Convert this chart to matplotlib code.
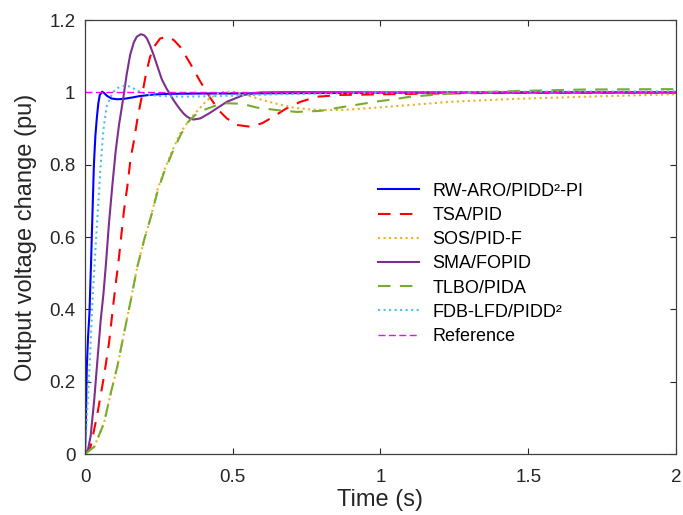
import matplotlib
matplotlib.use('Agg')
from matplotlib import pyplot as plt

# step responses (time in s, output in pu)
t_rwaro = [0, 0.003, 0.006, 0.01, 0.015, 0.02, 0.025, 0.03, 0.035, 0.04,
           0.045, 0.05, 0.058, 0.065, 0.075, 0.09, 0.11, 0.13, 0.16, 0.186,
           0.23, 0.277, 0.4, 0.5, 0.7, 1.0, 1.5, 2.0]
y_rwaro = [0, 0.1, 0.24, 0.32, 0.39, 0.52, 0.66, 0.8, 0.88, 0.93,
           0.97, 0.993, 1.002, 0.998, 0.99, 0.983, 0.981, 0.982, 0.986, 0.99,
           0.994, 0.996, 0.997, 0.997, 0.998, 0.999, 1.0, 1.0]

t_tsa = [0, 0.019, 0.042, 0.064, 0.081, 0.098, 0.115, 0.132, 0.143, 0.155,
         0.164, 0.178, 0.192, 0.206, 0.22, 0.237, 0.254, 0.277, 0.3, 0.322,
         0.356, 0.39, 0.424, 0.452, 0.48, 0.514, 0.559, 0.6, 0.638, 0.68,
         0.729, 0.785, 0.864, 0.95, 1.1, 1.3, 1.6, 2.0]
y_tsa = [0, 0.02, 0.112, 0.214, 0.306, 0.43, 0.545, 0.675, 0.739, 0.822,
         0.859, 0.93, 0.988, 1.05, 1.098, 1.13, 1.149, 1.154, 1.145, 1.126,
         1.08, 1.03, 0.985, 0.951, 0.928, 0.91, 0.905, 0.915, 0.933, 0.955,
         0.974, 0.988, 0.993, 0.994, 0.996, 0.998, 0.999, 1.0]

t_sos = [0, 0.031, 0.064, 0.087, 0.109, 0.132, 0.155, 0.177, 0.2, 0.223,
         0.245, 0.268, 0.296, 0.322, 0.345, 0.367, 0.39, 0.412, 0.435, 0.458,
         0.5, 0.548, 0.6, 0.661, 0.706, 0.76, 0.82, 0.88, 0.955, 1.05,
         1.237, 1.45, 1.69, 2.0]
y_sos = [0, 0.02, 0.085, 0.168, 0.241, 0.334, 0.426, 0.518, 0.592, 0.656,
         0.73, 0.785, 0.84, 0.887, 0.915, 0.937, 0.958, 0.978, 0.99, 1.0,
         1.002, 0.993, 0.979, 0.966, 0.958, 0.953, 0.951, 0.952, 0.956, 0.962,
         0.974, 0.982, 0.988, 0.995]

t_sma = [0, 0.01, 0.019, 0.031, 0.042, 0.053, 0.062, 0.07, 0.081, 0.093,
         0.104, 0.115, 0.13, 0.141, 0.153, 0.165, 0.175, 0.189, 0.2, 0.209,
         0.22, 0.232, 0.245, 0.26, 0.275, 0.288, 0.3, 0.311, 0.322, 0.333,
         0.345, 0.356, 0.367, 0.39, 0.42, 0.45, 0.48, 0.537, 0.593, 0.7,
         1.0, 1.5, 2.0]
y_sma = [0, 0.012, 0.05, 0.149, 0.26, 0.37, 0.44, 0.518, 0.638, 0.748,
         0.84, 0.91, 0.988, 1.05, 1.105, 1.138, 1.154, 1.161, 1.158, 1.15,
         1.13, 1.104, 1.072, 1.036, 1.012, 0.994, 0.978, 0.965, 0.953, 0.942,
         0.933, 0.928, 0.925, 0.928, 0.942, 0.958, 0.974, 0.993, 1.0, 1.001,
         1.0, 1.0, 1.0]

t_tlbo = [0, 0.031, 0.064, 0.087, 0.109, 0.132, 0.155, 0.177, 0.2, 0.223,
          0.245, 0.268, 0.296, 0.322, 0.345, 0.372, 0.401, 0.44, 0.48, 0.515,
          0.548, 0.582, 0.65, 0.717, 0.797, 0.86, 0.921, 0.98, 1.045, 1.1,
          1.237, 1.35, 1.463, 1.69, 1.95, 2.0]
y_tlbo = [0, 0.02, 0.085, 0.168, 0.241, 0.334, 0.426, 0.518, 0.592, 0.656,
          0.725, 0.78, 0.835, 0.88, 0.915, 0.937, 0.951, 0.963, 0.97, 0.969,
          0.965, 0.958, 0.951, 0.946, 0.949, 0.958, 0.966, 0.974, 0.981, 0.988,
          0.997, 1.001, 1.004, 1.008, 1.009, 1.009]

t_fdb = [0, 0.005, 0.01, 0.017, 0.025, 0.034, 0.042, 0.053, 0.062, 0.073,
         0.085, 0.096, 0.11, 0.13, 0.145, 0.164, 0.18, 0.198, 0.22, 0.254,
         0.333, 0.45, 0.661, 1.0, 1.5, 2.0]
y_fdb = [0, 0.08, 0.16, 0.27, 0.42, 0.55, 0.656, 0.8, 0.896, 0.96,
         0.985, 1.002, 1.012, 1.018, 1.018, 1.011, 1.004, 0.997, 0.993, 0.99,
         0.988, 0.99, 0.995, 0.999, 1.002, 1.003]

t_ref = [0, 2]
y_ref = [1, 1]

labels = ['RW-ARO/PIDD²-PI', 'TSA/PID', 'SOS/PID-F', 'SMA/FOPID',
          'TLBO/PIDA', 'FDB-LFD/PIDD²', 'Reference']

plt.rcParams['font.family'] = ['Liberation Sans', 'DejaVu Sans']

fig = plt.figure(figsize=(6.83, 5.15), dpi=100)
ax = fig.add_axes([0.1245, 0.1184, 0.8652, 0.8426])

ax.plot(t_rwaro, y_rwaro, color='#0000FF', lw=1.5, label=labels[0])
ax.plot(t_tsa, y_tsa, color='#FF0000', lw=1.5, dashes=(6, 4.5), label=labels[1])
ax.plot(t_sos, y_sos, color='#EDB120', lw=1.5, linestyle=':', label=labels[2])
ax.plot(t_sma, y_sma, color='#7E2F8E', lw=1.5, label=labels[3])
ax.plot(t_tlbo, y_tlbo, color='#77AC30', lw=1.5, dashes=(6, 4.5), label=labels[4])
ax.plot(t_fdb, y_fdb, color='#4DBEEE', lw=1.5, linestyle=':', label=labels[5])
ax.plot(t_ref, y_ref, color='#FF00FF', lw=1.0, dashes=(5, 2.5), label=labels[6])

ax.set_xlim(0, 2)
ax.set_ylim(0, 1.2)
ax.set_xticks([0, 0.5, 1, 1.5, 2])
ax.set_xticklabels(['0', '0.5', '1', '1.5', '2'])
ax.set_yticks([0, 0.2, 0.4, 0.6, 0.8, 1.0, 1.2])
ax.set_yticklabels(['0', '0.2', '0.4', '0.6', '0.8', '1', '1.2'])
ax.tick_params(axis='both', direction='in', length=4, width=0.8,
               top=True, right=True, labelsize=13.5, colors='#262626')
ax.tick_params(axis='x', pad=11)
ax.tick_params(axis='y', pad=7)
for s in ax.spines.values():
    s.set_color('#404040')
    s.set_linewidth(0.9)

ax.set_xlabel('Time (s)', fontsize=17, color='#262626', labelpad=2)
ax.set_ylabel('Output voltage change (pu)', fontsize=17, color='#262626', labelpad=9)

ax.legend(loc='upper left', bbox_to_anchor=(0.483, 0.642), frameon=False,
          fontsize=13, handlelength=2.3, handletextpad=0.72, labelspacing=0.4,
          borderaxespad=0)

fig.savefig('out.png', dpi=100)
